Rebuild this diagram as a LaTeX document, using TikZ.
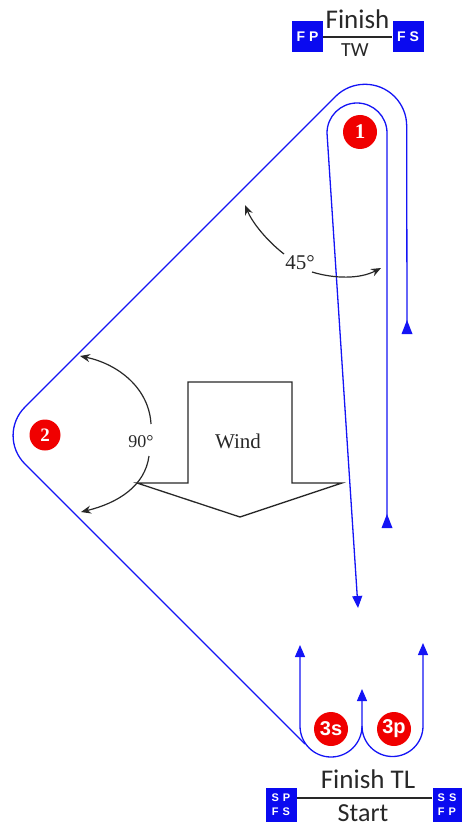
\documentclass[tikz,border=0pt]{standalone}
\usepackage{fontspec}
\setmainfont{Liberation Serif}
\newfontfamily\calib{Carlito}
\newfontfamily\arsans{Liberation Sans}
\usetikzlibrary{arrows.meta}
\definecolor{course}{RGB}{20,20,245}
\definecolor{markred}{RGB}{240,0,0}
\definecolor{flagblue}{RGB}{10,10,240}
\definecolor{ink}{RGB}{40,40,40}
\tikzset{
  courseline/.style={draw=course, line width=1.3pt},
  ctip/.style={-{Triangle[width=10pt,length=12pt]}},
  angarrow/.style={draw=ink, line width=1.2pt, -{Stealth[length=10pt,width=8pt]}},
  roundmark/.style={circle, fill=markred, minimum size=34pt, inner sep=0pt, text=white},
  flagbox/.style={fill=flagblue, minimum width=31pt, minimum height=31pt, inner sep=0pt, text=white, font=\arsans\bfseries\fontsize{14}{14}\selectfont, align=center},
  flagline/.style={draw=ink, line width=1.5pt},
  lbl/.style={text=ink, inner sep=0pt, anchor=base}
}
\begin{document}
\begin{tikzpicture}[x=1pt,y=-1pt]
\useasboundingbox (0,0) rectangle (461,826);

% outer course line
\draw[courseline] (305,744) -- (24.8,463.8) arc[start angle=135,end angle=225,radius=40]
  -- (335.5,96.5) arc[start angle=225,end angle=360,radius=41.7] -- (407,333);
\fill[course] (401.5,334) -- (412.5,334) -- (407,320) -- cycle;

% inner course line
\draw[courseline,ctip] (387,527) -- (387,133) arc[start angle=0,end angle=-180,radius=30] -- (358,608);
\fill[course] (381.5,528) -- (392.5,528) -- (387,514) -- cycle;

% bottom loops
\draw[courseline,{Triangle[width=10pt,length=12pt]}-{Triangle[width=10pt,length=12pt]}]
  (300,645) -- (300,726) arc[start angle=180,end angle=0,radius=31] -- (362,689);
\draw[courseline,ctip] (362,726) arc[start angle=180,end angle=0,radius=30.5] -- (423,643);

% marks
\node[roundmark, font=\bfseries\fontsize{21}{21}\selectfont] (m1) at (360,132) {1};
\node[roundmark, minimum size=31pt, font=\bfseries\fontsize{19}{19}\selectfont] (m2) at (45,435) {2};
\node[roundmark, font=\arsans\bfseries\fontsize{20}{20}\selectfont] (m3s) at (331,729) {3s};
\node[roundmark, font=\arsans\bfseries\fontsize{20}{20}\selectfont] (m3p) at (394,729) {3p};

% angle arrows
\coordinate (a90s1) at (151,424);
\coordinate (a90e1) at (80,356);
\coordinate (a90s2) at (149,456);
\coordinate (a90e2) at (81,512);
\draw[angarrow] (a90s1) .. controls (149,388) and (118,364) .. (a90e1);
\draw[angarrow] (a90s2) .. controls (145,486) and (118,503) .. (a90e2);
\node[lbl, font=\fontsize{18}{18}\selectfont] (l90) at (141,447) {90°};

\coordinate (a45s1) at (284,254);
\coordinate (a45e1) at (245,205);
\coordinate (a45s2) at (312,272);
\coordinate (a45e2) at (381,268);
\draw[angarrow] (a45s1) .. controls (266,240) and (252,222) .. (a45e1);
\draw[angarrow] (a45s2) .. controls (335,279) and (360,279) .. (a45e2);
\node[lbl, font=\fontsize{21}{21}\selectfont] (l45) at (300,269) {45°};

% wind arrow
\draw[draw=ink, line width=1.3pt, line join=miter] (188,483) -- (188,382) -- (292,382) -- (292,483)
  -- (342,483) -- (240,517) -- (137,483) -- cycle;
\node[lbl, font=\fontsize{21}{21}\selectfont] (wind) at (238,448) {Wind};

% top finish line
\node[flagbox] (fp) at (307.5,36.5) {F\hspace{4pt}P};
\node[flagbox] (fs) at (408,36.5) {F\hspace{4pt}S};
\draw[flagline] (fp.east |- 0,37) -- (fs.west |- 0,37);
\node[lbl, font=\calib\fontsize{27}{27}\selectfont] (fin) at (357.5,29) {Finish};
\node[lbl, font=\calib\fontsize{20}{20}\selectfont] (tw) at (355,57) {TW};

% bottom start/finish line
\node[flagbox, minimum height=34pt, font=\arsans\bfseries\fontsize{11}{14}\selectfont] (sp) at (281,805) {S\hspace{4pt}P\\F\hspace{4pt}S};
\node[flagbox, minimum height=34pt, minimum width=29pt, font=\arsans\bfseries\fontsize{11}{14}\selectfont] (ss) at (447,805) {S\hspace{4pt}S\\F\hspace{4pt}P};
\draw[flagline] (sp.east |- 0,798) -- (ss.west |- 0,798);
\node[lbl, font=\calib\fontsize{27}{27}\selectfont] (fintl) at (368,788) {Finish TL};
\node[lbl, font=\calib\fontsize{26}{26}\selectfont] (start) at (363,821) {Start};
\end{tikzpicture}
\end{document}
